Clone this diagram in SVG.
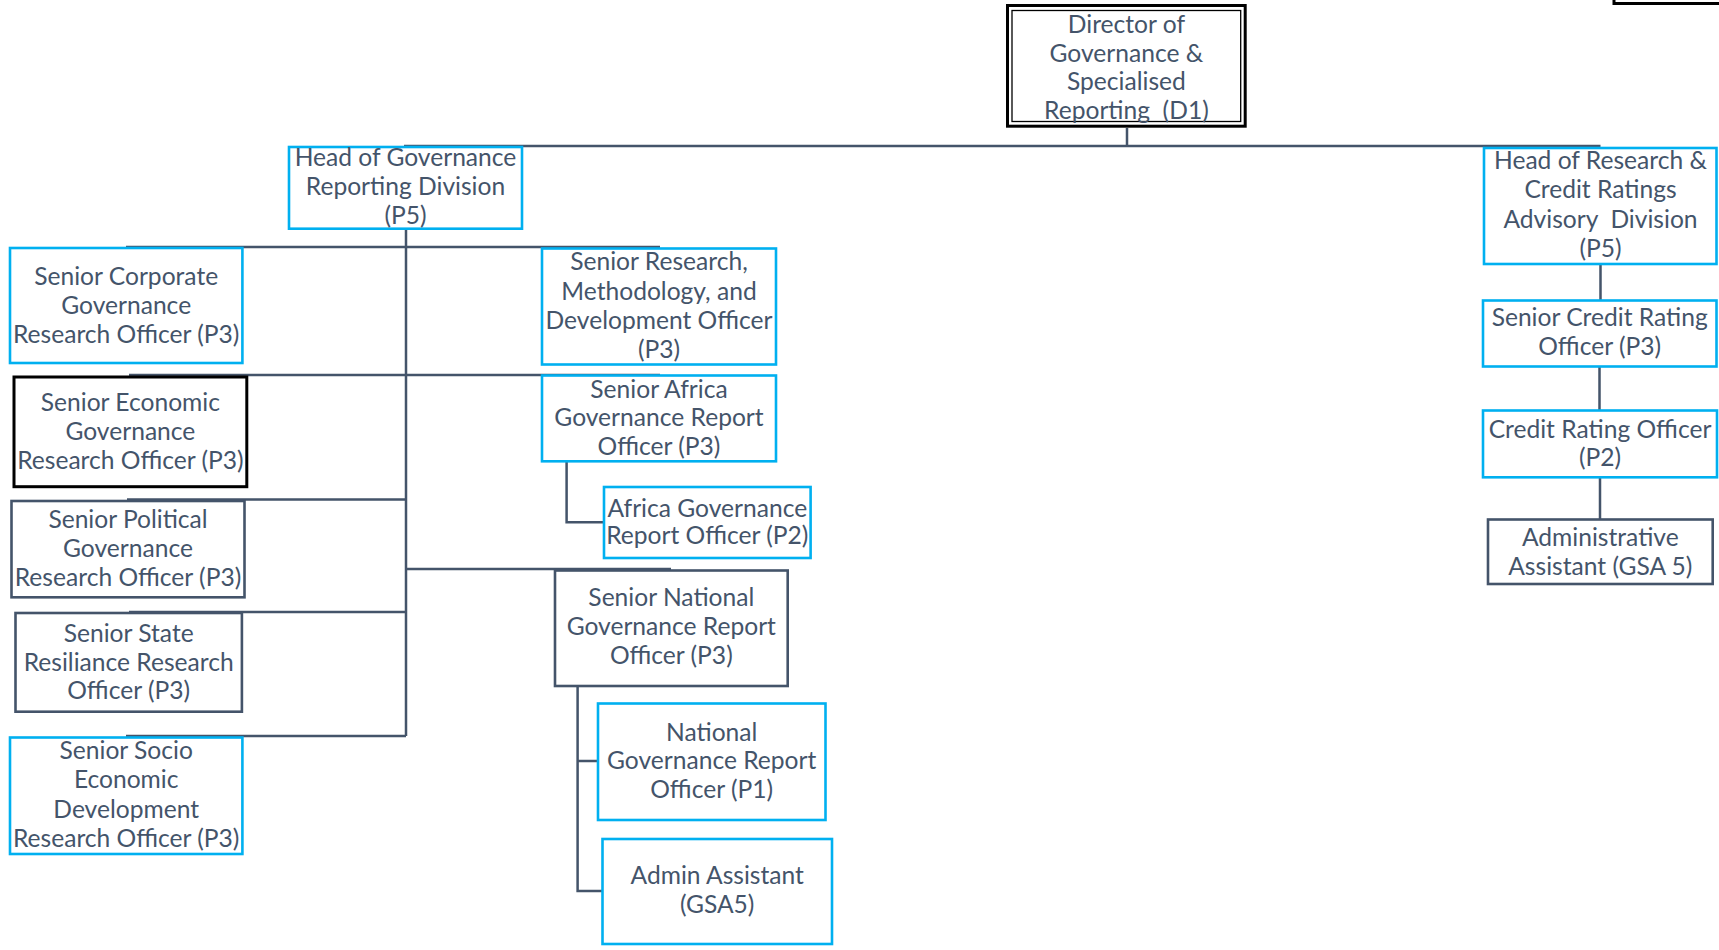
<svg xmlns="http://www.w3.org/2000/svg" width="1719" height="950" viewBox="0 0 1719 950">
<style>
text{font-family:Lato,"Open Sans","Liberation Sans",sans-serif;font-size:24.6px;fill:#44546a;text-anchor:middle}
.blue{fill:#fff;stroke:#00b0f0;stroke-width:2.6}
.dark{fill:#fff;stroke:#44546a;stroke-width:2.6}
.black{fill:#fff;stroke:#000;stroke-width:3}
.conn{fill:none;stroke:#44546a;stroke-width:2.5}
</style>
<rect width="1719" height="950" fill="#fff"/>
<g id="connectors">
<path class="conn" d="M1127 128V146M404 146H1600.5M406 229V736M126 247H660M129 375H660M127 499.5H406M406 569H671M129 612H406M126 736H406M566.6 461V522.3H604M577.6 686V891H602M577.6 761H598M1600.5 264V300M1599.5 366.7V410M1600 477V519"/>
</g>
<g id="corner-box">
<rect x="1614" y="-10" width="110" height="13.5" fill="#fff" stroke="#000" stroke-width="3"/>
</g>
<g id="director">
<rect class="black" x="1007.5" y="5.5" width="237.7" height="120.7"/>
<rect x="1012" y="10.5" width="228.7" height="111" fill="none" stroke="#000" stroke-width="1.3"/>
<text x="1126.4" y="32.5">Director of</text>
<text x="1126.4" y="61.8">Governance &amp;</text>
<text x="1126.4" y="90">Specialised</text>
<text x="1126.4" y="119" xml:space="preserve">Reporting  (D1)</text>
</g>
<g id="head-governance">
<rect class="blue" x="289" y="147" width="233" height="81.7"/>
<text x="405.5" y="166">Head of Governance</text>
<text x="405.5" y="195">Reporting Division</text>
<text x="405.5" y="224">(P5)</text>
</g>
<g id="senior-corporate">
<rect class="blue" x="10" y="248" width="232.4" height="115"/>
<text x="126.2" y="285">Senior Corporate</text>
<text x="126.2" y="314">Governance</text>
<text x="126.2" y="343">Research Officer (P3)</text>
</g>
<g id="senior-research-methodology">
<rect class="blue" x="542" y="248.5" width="234" height="116"/>
<text x="659" y="270">Senior Research,</text>
<text x="659" y="300">Methodology, and</text>
<text x="659" y="329">Development Officer</text>
<text x="659" y="358">(P3)</text>
</g>
<g id="senior-economic">
<rect class="black" x="14" y="377" width="232.8" height="109.7"/>
<text x="130.4" y="411">Senior Economic</text>
<text x="130.4" y="440">Governance</text>
<text x="130.4" y="468.7">Research Officer (P3)</text>
</g>
<g id="senior-africa">
<rect class="blue" x="542" y="375.5" width="234" height="85.8"/>
<text x="659" y="397.7">Senior Africa</text>
<text x="659" y="426">Governance Report</text>
<text x="659" y="455.3">Officer (P3)</text>
</g>
<g id="africa-p2">
<rect class="blue" x="604" y="487" width="206.6" height="71"/>
<text x="707.3" y="516.7">Africa Governance</text>
<text x="707.3" y="544.3">Report Officer (P2)</text>
</g>
<g id="senior-political">
<rect class="dark" x="11.5" y="501" width="233" height="96.3"/>
<text x="128" y="527.7">Senior Political</text>
<text x="128" y="557">Governance</text>
<text x="128" y="586">Research Officer (P3)</text>
</g>
<g id="senior-national">
<rect class="dark" x="555" y="570.5" width="232.7" height="115.5"/>
<text x="671.3" y="606">Senior National</text>
<text x="671.3" y="635">Governance Report</text>
<text x="671.3" y="664.3">Officer (P3)</text>
</g>
<g id="senior-state">
<rect class="dark" x="15.5" y="613" width="226.4" height="98.7"/>
<text x="128.7" y="641.7">Senior State</text>
<text x="128.7" y="671">Resiliance Research</text>
<text x="128.7" y="699.3">Officer (P3)</text>
</g>
<g id="senior-socio">
<rect class="blue" x="10" y="737.5" width="232.4" height="116.5"/>
<text x="126.2" y="759.3">Senior Socio</text>
<text x="126.2" y="788.3">Economic</text>
<text x="126.2" y="817.7">Development</text>
<text x="126.2" y="846.7">Research Officer (P3)</text>
</g>
<g id="national-p1">
<rect class="blue" x="598" y="703.5" width="227.5" height="116.5"/>
<text x="711.7" y="741">National</text>
<text x="711.7" y="769.3">Governance Report</text>
<text x="711.7" y="798.3">Officer (P1)</text>
</g>
<g id="admin-assistant">
<rect class="blue" x="602.5" y="839" width="229.5" height="105"/>
<text x="717.2" y="884.3">Admin Assistant</text>
<text x="717.2" y="913.3">(GSA5)</text>
</g>
<g id="head-research">
<rect class="blue" x="1484" y="148" width="232.5" height="116"/>
<text x="1600.5" y="169.3">Head of Research &amp;</text>
<text x="1600.5" y="198.3">Credit Ratings</text>
<text x="1600.5" y="227.7" xml:space="preserve">Advisory  Division</text>
<text x="1600.5" y="257">(P5)</text>
</g>
<g id="senior-credit">
<rect class="blue" x="1483" y="300.5" width="233.5" height="66"/>
<text x="1599.7" y="326">Senior Credit Rating</text>
<text x="1599.7" y="355">Officer (P3)</text>
</g>
<g id="credit-officer">
<rect class="blue" x="1483" y="410.5" width="234" height="66.8"/>
<text x="1600" y="437.7">Credit Rating Officer</text>
<text x="1600" y="466">(P2)</text>
</g>
<g id="admin-gsa5">
<rect class="dark" x="1488" y="519.5" width="224.7" height="64.5"/>
<text x="1600.3" y="546">Administrative</text>
<text x="1600.3" y="575">Assistant (GSA 5)</text>
</g>
</svg>
